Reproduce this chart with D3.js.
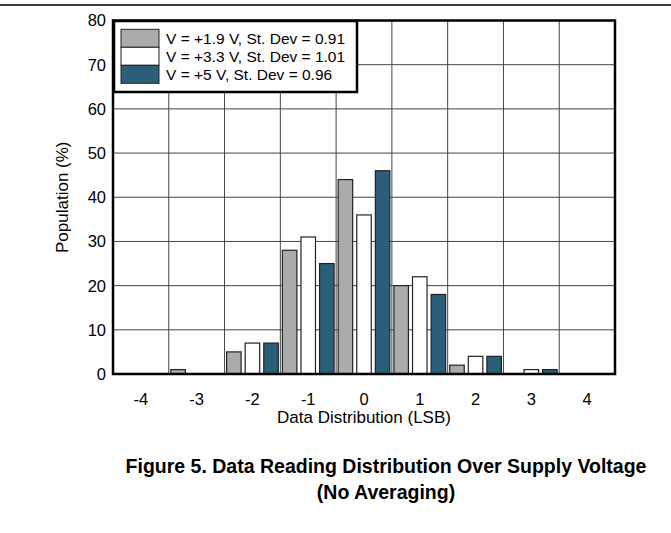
<!DOCTYPE html>
<html>
<head>
<meta charset="utf-8">
<script src="https://cdn.jsdelivr.net/npm/d3@7"></script>
<style>
  body { margin: 0; background: #fff; }
  text { font-family: "Liberation Sans", Arial, sans-serif; fill: #000; }
</style>
</head>
<body>
<div id="chart"></div>
<script>
// values
const categories = ["-4", "-3", "-2", "-1", "0", "1", "2", "3", "4"];
const seriesNames = [
    "V = +1.9 V, St. Dev = 0.91",
    "V = +3.3 V, St. Dev = 1.01",
    "V = +5 V, St. Dev = 0.96"
];
const v19 = [0, 1, 5, 28, 44, 20, 2, 0, 0];
const v33 = [0, 0, 7, 31, 36, 22, 4, 1, 0];
const v50 = [0, 0, 7, 25, 46, 18, 4, 1, 0];
const yTicks = [0, 10, 20, 30, 40, 50, 60, 70, 80];
const colors = ["#ababab", "#ffffff", "#2b5e78"];

const seriesValues = [v19, v33, v50];

const width = 671;
const height = 533;
const margin = { top: 20.5, bottom: 159, left: 113, right: 56 };

const svg = d3.select('#chart')
    .append('svg')
    .attr('width', width)
    .attr('height', height);

// rule across the top of the page
svg.append('line')
    .attr('x1', 0).attr('x2', width)
    .attr('y1', 5).attr('y2', 5)
    .attr('stroke', '#000')
    .attr('stroke-width', 1.5);

const x0 = d3.scaleBand()
    .domain(categories)
    .range([margin.left, width - margin.right]);

const x1 = d3.scaleBand()
    .domain(d3.range(seriesNames.length))
    .range([0, x0.bandwidth()])
    .paddingInner(0.22)
    .paddingOuter(0.11);

const y = d3.scaleLinear()
    .domain([0, 80])
    .range([height - margin.bottom, margin.top]);

// grid
const grid = svg.append('g')
    .attr('stroke', '#444')
    .attr('stroke-width', 1);

grid.selectAll('.vgrid')
    .data(categories.slice(1))
    .join('line')
    .attr('x1', d => x0(d)).attr('x2', d => x0(d))
    .attr('y1', y(80)).attr('y2', y(0));

grid.selectAll('.hgrid')
    .data(yTicks.slice(1, -1))
    .join('line')
    .attr('x1', x0.range()[0]).attr('x2', x0.range()[1])
    .attr('y1', d => y(d)).attr('y2', d => y(d));

// bars
const groups = svg.append('g')
    .selectAll('g')
    .data(categories)
    .join('g')
    .attr('transform', d => `translate(${x0(d)},0)`);

groups.selectAll('rect')
    .data((d, i) => seriesValues.map((s, k) => ({ k: k, v: s[i] })))
    .join('rect')
    .attr('x', d => x1(d.k))
    .attr('y', d => y(d.v))
    .attr('width', x1.bandwidth())
    .attr('height', d => y(0) - y(d.v))
    .attr('fill', d => colors[d.k])
    .attr('stroke', '#222')
    .attr('stroke-width', 1.2);

// frame
svg.append('rect')
    .attr('x', x0.range()[0])
    .attr('y', y(80))
    .attr('width', x0.range()[1] - x0.range()[0])
    .attr('height', y(0) - y(80))
    .attr('fill', 'none')
    .attr('stroke', '#000')
    .attr('stroke-width', 2.5);

// y tick labels
svg.append('g')
    .selectAll('text')
    .data(yTicks)
    .join('text')
    .attr('x', margin.left - 7)
    .attr('y', d => y(d))
    .attr('dy', '0.36em')
    .attr('text-anchor', 'end')
    .attr('font-size', '16.5px')
    .text(d => d);

// x tick labels
svg.append('g')
    .selectAll('text')
    .data(categories)
    .join('text')
    .attr('x', d => x0(d) + x0.bandwidth() / 2)
    .attr('y', y(0) + 31)
    .attr('text-anchor', 'middle')
    .attr('font-size', '16.5px')
    .text(d => d);

// axis titles
svg.append('text')
    .attr('x', (x0.range()[0] + x0.range()[1]) / 2)
    .attr('y', y(0) + 49)
    .attr('text-anchor', 'middle')
    .attr('font-size', '17px')
    .text('Data Distribution (LSB)');

svg.append('text')
    .attr('transform', `translate(68,${(y(0) + y(80)) / 2}) rotate(-90)`)
    .attr('text-anchor', 'middle')
    .attr('font-size', '17px')
    .text('Population (%)');

// legend
const legend = svg.append('g');
legend.append('rect')
    .attr('x', 114).attr('y', 21)
    .attr('width', 243).attr('height', 71)
    .attr('fill', '#fff')
    .attr('stroke', '#000')
    .attr('stroke-width', 2.5);

const item = legend.selectAll('.item')
    .data(seriesNames)
    .join('g')
    .attr('transform', (d, i) => `translate(121,${29.3 + i * 18})`);

item.append('rect')
    .attr('width', 38).attr('height', 18)
    .attr('fill', (d, i) => colors[i])
    .attr('stroke', '#222')
    .attr('stroke-width', 1);

item.append('text')
    .attr('x', 45)
    .attr('y', 9)
    .attr('dy', '0.36em')
    .attr('font-size', '15.5px')
    .text(d => d);

// caption
const caption = svg.append('text')
    .attr('text-anchor', 'middle')
    .attr('font-size', '19.5px')
    .attr('font-weight', 'bold');
caption.append('tspan')
    .attr('x', 386).attr('y', 473)
    .text('Figure 5. Data Reading Distribution Over Supply Voltage');
caption.append('tspan')
    .attr('x', 386).attr('y', 499)
    .text('(No Averaging)');
</script>
</body>
</html>
